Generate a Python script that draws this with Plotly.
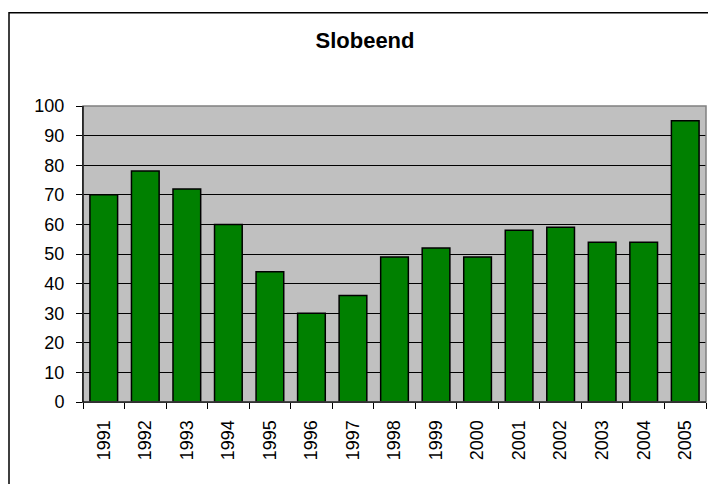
import plotly.graph_objects as go

years = ["1991", "1992", "1993", "1994", "1995", "1996", "1997", "1998",
         "1999", "2000", "2001", "2002", "2003", "2004", "2005"]
counts = [70, 78, 72, 60, 44, 30, 36, 49, 52, 49, 58, 59, 54, 54, 95]
title_text = "Slobeend"
y_ticks = [0, 10, 20, 30, 40, 50, 60, 70, 80, 90, 100]

# page has an 8px body margin; work in figure coordinates
OFF = 8
W, H = 716 - OFF, 484 - OFF
L, R, T, B = 83 - OFF, 706 - OFF, 105.5 - OFF, 402 - OFF

def px_x(px):
    return (px - L) / (R - L)

def px_y(py):
    return (B - py) / (B - T)

fig = go.Figure(go.Bar(
    x=years, y=counts,
    marker=dict(color="#008000", line=dict(color="black", width=1.5)),
))

fig.update_layout(
    width=W, height=H,
    margin=dict(l=L, r=W - R, t=T, b=H - B, pad=0, autoexpand=False),
    paper_bgcolor="white", plot_bgcolor="#C0C0C0",
    bargap=1/3,
    showlegend=False,
    font=dict(family="Liberation Sans, Arial, sans-serif", size=18, color="black"),
    title=dict(text="<b>" + title_text + "</b>", x=(365 - OFF) / W, xref="container",
               xanchor="center", y=1 - (40.5 - OFF) / H, yref="container", yanchor="middle",
               font=dict(size=22, color="black")),
    xaxis=dict(type="category", tickangle=-90, ticks="outside", tickson="boundaries",
               ticklen=6, tickcolor="black", showline=True, linecolor="black",
               linewidth=1, showgrid=False, tickfont=dict(size=18),
               ticklabelstandoff=10, automargin=False),
    yaxis=dict(range=[0, 100], tickvals=y_ticks, ticks="outside", ticklen=6,
               tickcolor="black", showline=True, linecolor="black", linewidth=1,
               showgrid=True, gridcolor="black", gridwidth=1, zeroline=False,
               tickfont=dict(size=18), ticklabelstandoff=8, automargin=False),
    shapes=[
        # plot area border (top/right gray)
        dict(type="rect", xref="paper", yref="paper", x0=0, x1=1, y0=0, y1=1,
             line=dict(color="#808080", width=1.5), layer="above"),
        # chart area border
        dict(type="rect", xref="paper", yref="paper",
             x0=px_x(1), x1=px_x(730 - OFF), y0=px_y(500 - OFF), y1=px_y(12 - OFF),
             line=dict(color="black", width=1.5), layer="above"),
    ],
)
# black axis lines on top of gray border
fig.add_shape(type="line", xref="paper", yref="paper", x0=0, x1=0, y0=0, y1=1,
              line=dict(color="black", width=1.2), layer="above")
fig.add_shape(type="line", xref="paper", yref="paper", x0=0, x1=1, y0=0, y1=0,
              line=dict(color="black", width=1.2), layer="above")

fig.write_html("out.html")
